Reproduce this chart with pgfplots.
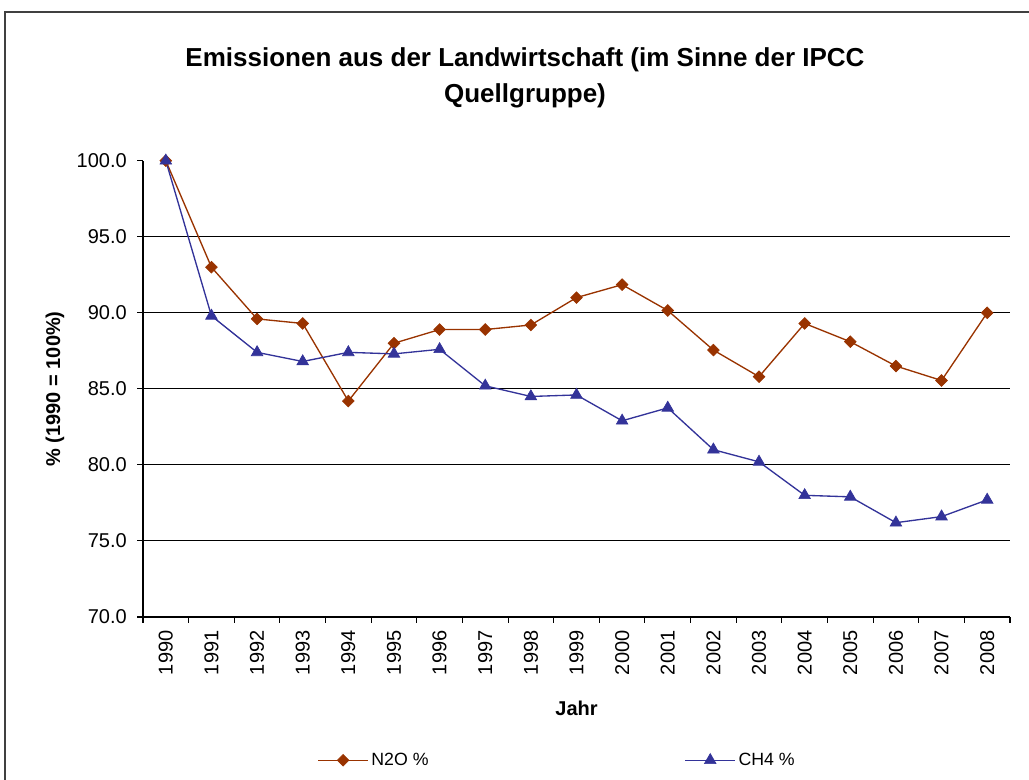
\documentclass[border=0pt]{standalone}
\usepackage{pgfplots}
\pgfplotsset{compat=1.18}
\usepackage{fontspec}
\setmainfont{Liberation Sans}
\definecolor{ntwo}{HTML}{993300}
\definecolor{chf}{HTML}{333399}
\definecolor{framec}{HTML}{404040}

\pgfplotstableread{
x y
0 100
1 93.0
2 89.6
3 89.3
4 84.2
5 88.0
6 88.9
7 88.9
8 89.2
9 91.0
10 91.85
11 90.15
12 87.55
13 85.8
14 89.3
15 88.1
16 86.5
17 85.55
18 90.0
}\ntwodata

\pgfplotstableread{
x y
0 100
1 89.8
2 87.4
3 86.8
4 87.4
5 87.3
6 87.6
7 85.2
8 84.5
9 84.6
10 82.9
11 83.75
12 81.0
13 80.2
14 78.0
15 77.9
16 76.2
17 76.6
18 77.7
}\chfdata

\begin{document}
\begin{tikzpicture}[x=1pt,y=1pt]
\clip (0,0) rectangle (771.75,585);
\draw[line width=1.5pt, framec] (3.75,576) rectangle (800,-20);
\begin{axis}[
  at={(107.25pt,122.25pt)}, anchor=south west,
  scale only axis, width=650.25pt, height=342.2pt,
  xmin=-0.5, xmax=18.5, ymin=70, ymax=100,
  axis x line=bottom, axis y line=left,
  axis line style={-, line width=0.9pt, black},
  tick align=outside, major tick length=4.5pt,
  tick style={black, line width=0.8pt},
  ytick={70,75,...,100},
  extra y ticks={75,80,85,90,95},
  extra y tick labels={},
  extra y tick style={grid=major},
  major grid style={black, line width=0.8pt},
  xtick={-0.5,0.5,...,18.5},
  xticklabels={},
  extra x ticks={0,1,...,18},
  extra x tick labels={1990,1991,1992,1993,1994,1995,1996,1997,1998,1999,2000,2001,2002,2003,2004,2005,2006,2007,2008},
  extra x tick style={major tick length=0pt, xticklabel style={rotate=90, anchor=east, inner ysep=0pt, inner xsep=10pt}},
  yticklabel style={inner ysep=0pt, inner xsep=7.5pt, anchor=east},
  ticklabel style={font=\fontsize{15}{18}\selectfont},
  /pgf/number format/.cd, fixed, fixed zerofill, precision=1, assume math mode=true,
  /pgfplots/.cd,
  title={Emissionen aus der Landwirtschaft (im Sinne der IPCC\\Quellgruppe)},
  title style={at={(axis description cs:0.4406,1.165)}, anchor=center, align=center, font=\bfseries\fontsize{19.5}{27}\selectfont},
  ylabel={\% (1990 = 100\%)},
  ylabel style={at={(axis description cs:-0.1015,0.5)}, anchor=center, font=\bfseries\fontsize{15}{18}\selectfont},
  xlabel={Jahr},
  xlabel style={at={(axis description cs:0.5,-0.1994)}, anchor=center, font=\bfseries\fontsize{15}{18}\selectfont},
  legend style={at={(axis description cs:0.478,-0.314)}, anchor=center, draw=none, fill=none,
    font=\fontsize{13.3}{15}\selectfont, /tikz/every even column/.append style={column sep=190pt}},
  legend columns=2,
  legend image code/.code={\draw[mark repeat=2,mark phase=2,#1] plot coordinates {(0pt,0pt) (18.75pt,0pt) (37.5pt,0pt)};},
]
\addplot[color=ntwo, line width=1pt, mark=square*, mark size=3.1pt, mark options={fill=ntwo, draw=ntwo, line width=0.5pt, rotate=45}] table[x=x,y=y] {\ntwodata};
\addlegendentry{N2O \%}
\addplot[color=chf, line width=1pt, mark=triangle*, mark size=5pt, mark options={fill=chf, draw=chf, line width=0.5pt}] table[x=x,y=y] {\chfdata};
\addlegendentry{CH4 \%}
\end{axis}
\end{tikzpicture}
\end{document}
